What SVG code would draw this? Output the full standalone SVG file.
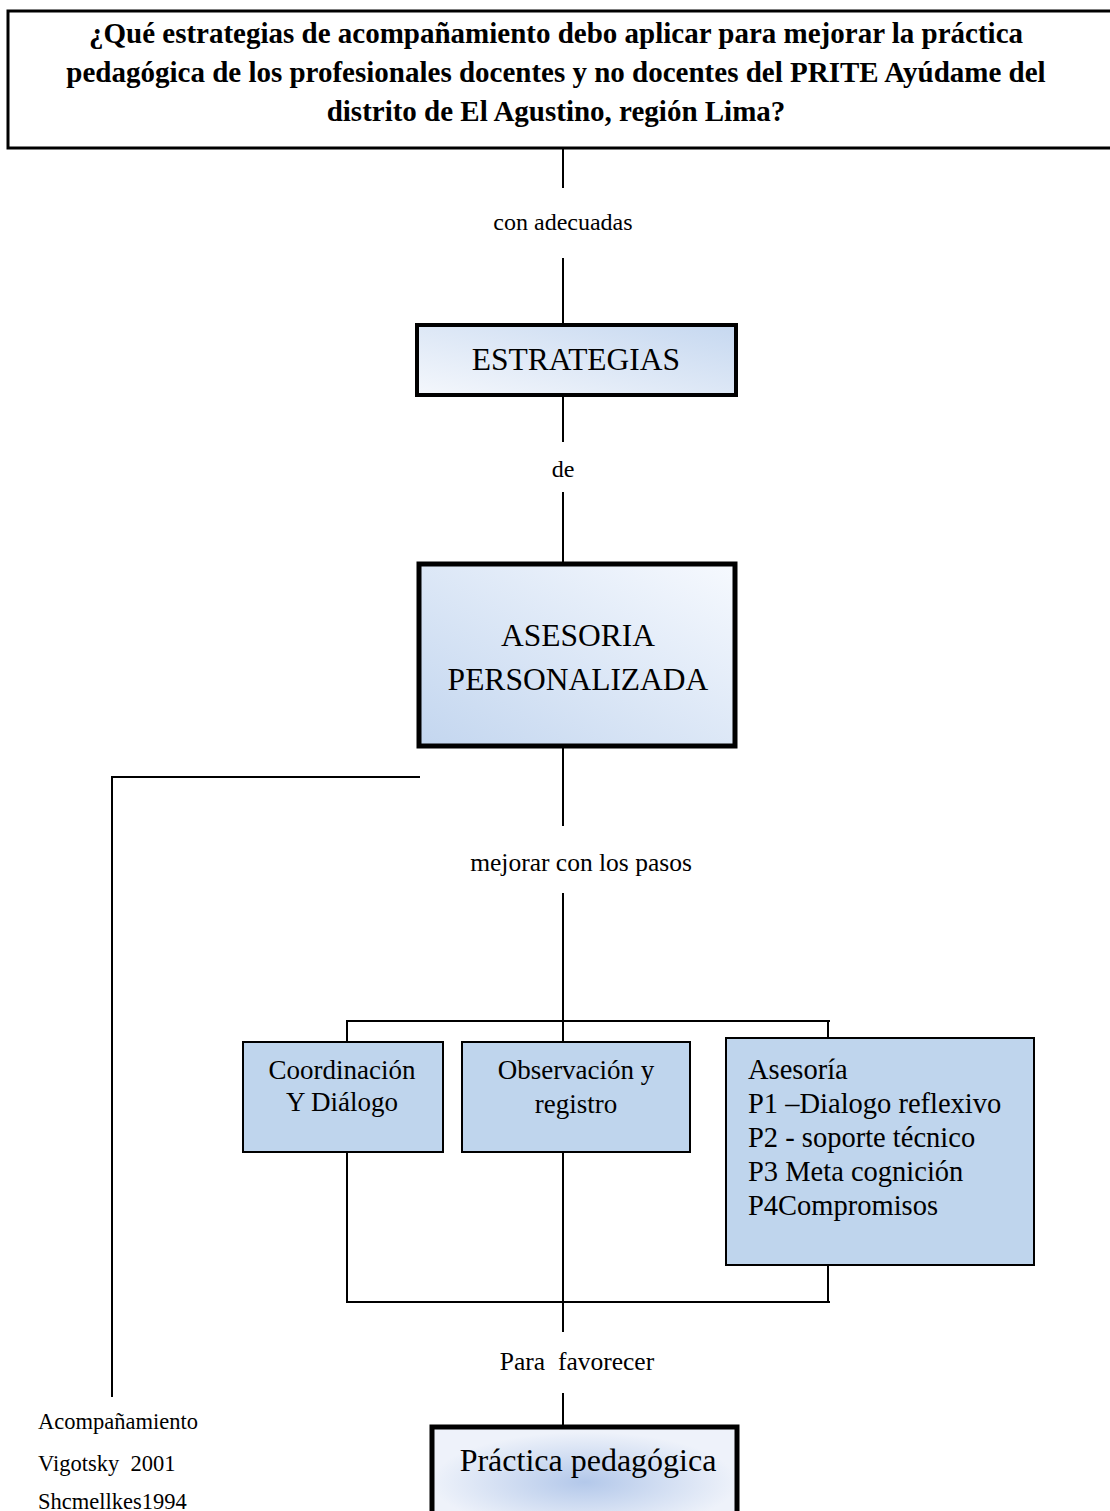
<svg xmlns="http://www.w3.org/2000/svg" width="1110" height="1511" viewBox="0 0 1110 1511">
<defs>
<linearGradient id="gEst" x1="0" y1="1" x2="1" y2="0">
<stop offset="0" stop-color="#f4f7fc"/>
<stop offset="1" stop-color="#c6d8f0"/>
</linearGradient>
<linearGradient id="gAse" x1="0" y1="1" x2="1" y2="0">
<stop offset="0" stop-color="#c3d6ef"/>
<stop offset="1" stop-color="#f6f9fe"/>
</linearGradient>
<radialGradient id="gPra" cx="0.5" cy="0.55" r="0.5">
<stop offset="0" stop-color="#b3c8ea"/>
<stop offset="1" stop-color="#eef2fa"/>
</radialGradient>
<style>
text{font-family:"Liberation Serif","Times New Roman",serif;fill:#000}
.title{font-size:29px;font-weight:bold;text-anchor:middle}
.lbl{font-size:24px;text-anchor:middle}
.lbl2{font-size:25.5px;text-anchor:middle}
.big{font-size:31.5px;text-anchor:middle}
.box{font-size:27px}
.ase{font-size:28.5px}
.mid{text-anchor:middle}
.side{font-size:22.5px}
.ln{stroke:#000;stroke-width:2;fill:none}
.step{fill:#bfd5ed;stroke:#000;stroke-width:2}
</style>
</defs>
<g id="connectors">
<line class="ln" x1="563" y1="148" x2="563" y2="188"/>
<line class="ln" x1="563" y1="258" x2="563" y2="323"/>
<line class="ln" x1="563" y1="397" x2="563" y2="442"/>
<line class="ln" x1="563" y1="492" x2="563" y2="562"/>
<line class="ln" x1="563" y1="748" x2="563" y2="826"/>
<line class="ln" x1="563" y1="893" x2="563" y2="1041"/>
<line class="ln" x1="346" y1="1021" x2="830" y2="1021"/>
<line class="ln" x1="347" y1="1020" x2="347" y2="1041"/>
<line class="ln" x1="828" y1="1020" x2="828" y2="1037"/>
<line class="ln" x1="347" y1="1152" x2="347" y2="1303"/>
<line class="ln" x1="563" y1="1152" x2="563" y2="1332"/>
<line class="ln" x1="828" y1="1265" x2="828" y2="1303"/>
<line class="ln" x1="346" y1="1302" x2="830" y2="1302"/>
<line class="ln" x1="563" y1="1393" x2="563" y2="1426"/>
<line class="ln" x1="111" y1="777" x2="420" y2="777"/>
<line class="ln" x1="112" y1="776" x2="112" y2="1397"/>
</g>
<g id="question">
<rect x="8" y="11" width="1110" height="137" fill="#fff" stroke="#000" stroke-width="3"/>
<text class="title" x="556" y="43">¿Qué estrategias de acompañamiento debo aplicar para mejorar la práctica</text>
<text class="title" x="556" y="82">pedagógica de los profesionales docentes y no docentes del PRITE Ayúdame del</text>
<text class="title" x="556" y="121">distrito de El Agustino, región Lima?</text>
</g>
<g id="lbl-con-adecuadas"><text class="lbl" x="563" y="230">con adecuadas</text></g>
<g id="estrategias">
<rect x="417" y="325" width="319" height="70" fill="url(#gEst)" stroke="#000" stroke-width="4"/>
<text class="big" x="576" y="370">ESTRATEGIAS</text>
</g>
<g id="lbl-de"><text class="lbl" x="563" y="477">de</text></g>
<g id="asesoria-personalizada">
<rect x="419" y="564" width="316" height="182" fill="url(#gAse)" stroke="#000" stroke-width="5"/>
<text class="big" x="578" y="646">ASESORIA</text>
<text class="big" x="578" y="690">PERSONALIZADA</text>
</g>
<g id="lbl-mejorar"><text class="lbl2" x="581" y="871">mejorar con los pasos</text></g>
<g id="coordinacion">
<rect class="step" x="243" y="1042" width="200" height="110"/>
<text class="box mid" x="342" y="1079">Coordinación</text>
<text class="box mid" x="342" y="1111">Y Diálogo</text>
</g>
<g id="observacion">
<rect class="step" x="462" y="1042" width="228" height="110"/>
<text class="box mid" x="576" y="1079">Observación y</text>
<text class="box mid" x="576" y="1113">registro</text>
</g>
<g id="asesoria">
<rect class="step" x="726" y="1038" width="308" height="227"/>
<text class="ase" x="748" y="1079">Asesoría</text>
<text class="ase" x="748" y="1113">P1 –Dialogo reflexivo</text>
<text class="ase" x="748" y="1147">P2 - soporte técnico</text>
<text class="ase" x="748" y="1181">P3 Meta cognición</text>
<text class="ase" x="748" y="1215">P4Compromisos</text>
</g>
<g id="lbl-para"><text class="lbl2" x="577" y="1370" xml:space="preserve">Para  favorecer</text></g>
<g id="practica">
<rect x="432" y="1427" width="305" height="100" fill="url(#gPra)" stroke="#000" stroke-width="5"/>
<text class="mid" x="588" y="1471" style="font-size:32px">Práctica pedagógica</text>
</g>
<g id="referencias">
<text class="side" x="38" y="1429">Acompañamiento</text>
<text class="side" x="38" y="1471" xml:space="preserve">Vigotsky  2001</text>
<text class="side" x="38" y="1509">Shcmellkes1994</text>
</g>
</svg>
